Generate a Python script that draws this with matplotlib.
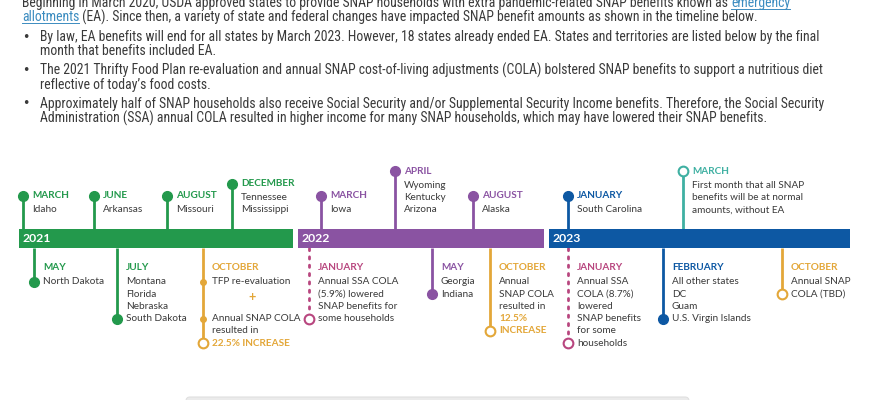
import matplotlib
matplotlib.use("Agg")
import matplotlib.pyplot as plt
from matplotlib import font_manager
from matplotlib.patches import FancyBboxPatch

# ---- text data ----
intro_lines = [
    ("Beginning in March 2020, USDA approved states to provide SNAP households with extra pandemic-related SNAP benefits known as ", "emergency", ""),
    ("", "allotments", " (EA). Since then, a variety of state and federal changes have impacted SNAP benefit amounts as shown in the timeline below."),
]
bullets = [
    ["By law, EA benefits will end for all states by March 2023. However, 18 states already ended EA. States and territories are listed below by the final",
     "month that benefits included EA."],
    ["The 2021 Thrifty Food Plan re-evaluation and annual SNAP cost-of-living adjustments (COLA) bolstered SNAP benefits to support a nutritious diet",
     "reflective of today\u2019s food costs."],
    ["Approximately half of SNAP households also receive Social Security and/or Supplemental Security Income benefits. Therefore, the Social Security",
     "Administration (SSA) annual COLA resulted in higher income for many SNAP households, which may have lowered their SNAP benefits."],
]

# ---- timeline data ----
years = ["2021", "2022", "2023"]
ev_year = [0] * 7 + [1] * 6 + [2] * 5
ev_month = ["MARCH", "JUNE", "AUGUST", "DECEMBER", "MAY", "JULY", "OCTOBER",
            "MARCH", "APRIL", "AUGUST", "JANUARY", "MAY", "OCTOBER",
            "JANUARY", "MARCH", "JANUARY", "FEBRUARY", "OCTOBER"]
ev_side = ["top", "top", "top", "top", "bottom", "bottom", "bottom",
           "top", "top", "top", "bottom", "bottom", "bottom",
           "top", "top", "bottom", "bottom", "bottom"]
ev_kind = ["ea", "ea", "ea", "ea", "ea", "ea", "cola",
           "ea", "ea", "ea", "ssa", "ea", "cola",
           "ea", "end", "ssa", "ea", "cola"]
ev_lines = [
    ["Idaho"], ["Arkansas"], ["Missouri"], ["Tennessee", "Mississippi"],
    ["North Dakota"], ["Montana", "Florida", "Nebraska", "South Dakota"],
    ["TFP re-evaluation", "+", "", "Annual SNAP COLA", "resulted in", "22.5% INCREASE"],
    ["Iowa"], ["Wyoming", "Kentucky", "Arizona"], ["Alaska"],
    ["Annual SSA COLA", "(5.9%) lowered", "SNAP benefits for", "some households"],
    ["Georgia", "Indiana"],
    ["Annual", "SNAP COLA", "resulted in", "12.5%", "INCREASE"],
    ["South Carolina"],
    ["First month that all SNAP", "benefits will be at normal", "amounts, without EA"],
    ["Annual SSA", "COLA (8.7%)", "lowered", "SNAP benefits", "for some", "households"],
    ["All other states", "DC", "Guam", "U.S. Virgin Islands"],
    ["Annual SNAP", "COLA (TBD)"],
]
highlight = {"+", "22.5% INCREASE", "12.5%", "INCREASE"}
cola_steps = {"TFP re-evaluation", "Annual SNAP COLA"}

# ---- layout ----
year_span = [(19, 293), (298, 544), (549, 850)]
ev_x = [23, 94, 167, 232, 34, 117, 203,
        321, 395, 473, 309, 432, 490,
        568, 683, 568, 663, 782]
bar_top, bar_bot = 229, 248

year_colors = ["#23994c", "#8a53a2", "#0d58a3"]
gold = "#e3a739"
pink = "#b8467f"
teal = "#3fb0a2"
text_col = "#3a3a3a"
link_col = "#3b8cc0"

# pick a condensed face for the paragraph if one is installed
para_font, para_stretch = "Liberation Sans", "normal"
ttf = font_manager.fontManager.ttflist
names = {f.name for f in ttf}
for cand in ["Liberation Sans Narrow", "Roboto Condensed", "Open Sans Condensed",
             "DejaVu Sans Condensed", "Noto Sans Condensed"]:
    if cand in names:
        para_font = cand
        break
else:
    for f in ttf:
        st = f.stretch
        if (isinstance(st, str) and "condensed" in st) or (isinstance(st, int) and st < 500):
            if f.weight in (400, "normal", "regular") and f.style == "normal":
                para_font, para_stretch = f.name, st
                break
tl_font = "Lato" if "Lato" in names else "DejaVu Sans"

fig = plt.figure(figsize=(8.7, 4), dpi=100)
ax = fig.add_axes([0, 0, 1, 1])
ax.set_xlim(0, 870)
ax.set_ylim(400, 0)
ax.axis("off")
renderer = fig.canvas.get_renderer()


def width_of(t):
    return t.get_window_extent(renderer).width


pkw = dict(family=para_font, stretch=para_stretch, color=text_col, va="center")

# fit paragraph font size to the longest line
probe = ax.text(0, 0, bullets[2][0], fontsize=10, **pkw)
para_size = 10 * 785 / width_of(probe)
probe.remove()


def segments(x, y, parts):
    for s, col, link in parts:
        if not s:
            continue
        t = ax.text(x, y, s, fontsize=para_size, ha="left",
                    **{**pkw, "color": col})
        w = width_of(t)
        if link:
            ax.plot([x, x + w], [y + 5.5, y + 5.5], color=col, lw=0.7)
        x += w


for i, (pre, link, post) in enumerate(intro_lines):
    segments(22, 3 + 14 * i, [(pre, text_col, False), (link, link_col, True), (post, text_col, False)])

by = 37
for lines in bullets:
    ax.text(22, by, "\u2022", fontsize=9, family="DejaVu Sans", color=text_col, va="center")
    for j, s in enumerate(lines):
        ax.text(40, by + 14 * j, s, fontsize=para_size, **pkw)
    by += 33.5

# year bars
for k, yr in enumerate(years):
    x0, x1 = year_span[k]
    ax.barh((bar_top + bar_bot) / 2, x1 - x0, left=x0, height=bar_bot - bar_top,
            color=year_colors[k], zorder=2)
    ax.text(x0 + 4, (bar_top + bar_bot) / 2 + 0.5, yr, fontsize=8.8, family=tl_font,
            weight="bold", color="white", va="center", zorder=3)

fs = 7.2
for i in range(len(ev_month)):
    x = ev_x[i]
    kind = ev_kind[i]
    lines = ev_lines[i]
    if kind == "ea":
        col = year_colors[ev_year[i]]
    elif kind == "cola":
        col = gold
    elif kind == "ssa":
        col = pink
    else:
        col = teal
    n = len(lines)
    if ev_side[i] == "top":
        ys = [210 - 12.3 * (n - 1 - k) for k in range(n)]
        hy = ys[0] - 14
        dot_y = hy
        y_from = bar_top
    else:
        hy = 268
        ys = [282 + 12.2 * k for k in range(n)]
        dot_y = ys[-1]
        y_from = bar_bot
    ls = (0, (0.8, 2.2)) if kind == "ssa" else "-"
    ax.plot([x, x], [y_from, dot_y], color=col, lw=2, ls=ls,
            solid_capstyle="butt", dash_capstyle="round", zorder=1)
    if kind == "ea":
        ax.plot(x, dot_y, "o", ms=7, color=col, zorder=3)
    else:
        ax.plot(x, dot_y, "o", ms=7, mfc="white", mec=col, mew=1.5, zorder=3)
    ax.text(x + 9, hy, ev_month[i], fontsize=fs, family=tl_font, weight="bold",
            color=col, va="center")
    for s, yy in zip(lines, ys):
        if not s:
            continue
        if kind == "cola" and s in cola_steps:
            ax.plot(x, yy, "o", ms=4, color=col, zorder=3)
        if s == "+":
            ax.text(x + 49, yy + 3, s, fontsize=9, family=tl_font, weight="bold",
                    color=gold, va="center", ha="center")
        elif s in highlight:
            ax.text(x + 9, yy, s, fontsize=fs, family=tl_font, weight="bold",
                    color=gold, va="center")
        else:
            ax.text(x + 9, yy, s, fontsize=fs, family=tl_font, color=text_col, va="center")

# grey panel peeking in at the bottom
ax.add_patch(FancyBboxPatch((186, 397), 503, 20, boxstyle="round,pad=0,rounding_size=4",
                            fc="#ebebeb", ec="#e0e0e0", lw=0.8))

fig.savefig("out.png", dpi=100)
